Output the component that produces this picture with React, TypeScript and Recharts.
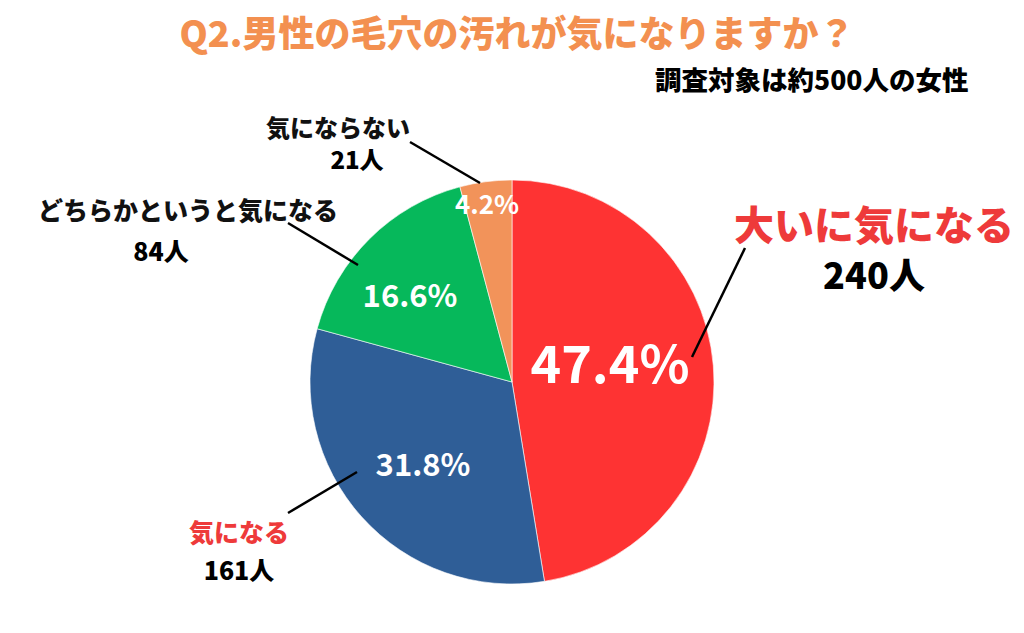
import React from "react";
import { PieChart, Pie, Cell } from "recharts";

const categories = ["大いに気になる", "気になる", "どちらかというと気になる", "気にならない"];
const counts = [240, 161, 84, 21];
const countLabels = ["240人", "161人", "84人", "21人"];
const titleText = "Q2.男性の毛穴の汚れが気になりますか？";
const subtitleText = "調査対象は約500人の女性";

const sliceColors = ["#FE3333", "#2F5E97", "#06B85B", "#F2935A"];
const nameColors = ["#EE3A3A", "#EE3A3A", "#111111", "#111111"];

// annotation layout (relative to pie centre)
const pctOffsets = [[98, -22], [-89, 80], [-102, -89], [-25, -180]];
const pctSizes = [52, 31, 31, 26];
const lineFrom = [[180, -25], [-155, 90], [-154, -117], [-32, -199]];
const lineTo = [[233, -134], [-224, 131], [-224, -159], [-102, -240]];
const nameOffsets = [[362, -159], [-273, 149], [-324, -173], [-174, -256]];
const nameSizes = [40, 25, 25, 24];
const countOffsets = [[362, -109], [-273, 187], [-351, -132], [-155, -224]];
const countSizes = [36, 25, 25, 24];

const data = categories.map((c, i) => ({ name: c, value: counts[i] }));
const total = counts.reduce((a, b) => a + b, 0);

const FONT = "'Noto Sans CJK JP', 'Noto Sans', sans-serif";

const renderLabel = (props: any) => {
  const { cx, cy, index, value } = props;
  const pct = ((value / total) * 100).toFixed(1) + "%";
  return (
    <g key={"lbl" + index}>
      <text
        x={cx + pctOffsets[index][0]}
        y={cy + pctOffsets[index][1]}
        fill="#fff"
        textAnchor="middle"
        dominantBaseline="central"
        fontFamily={FONT}
        fontWeight={700}
        fontSize={pctSizes[index]}
      >
        {pct}
      </text>
      <line
        x1={cx + lineFrom[index][0]}
        y1={cy + lineFrom[index][1]}
        x2={cx + lineTo[index][0]}
        y2={cy + lineTo[index][1]}
        stroke="#000"
        strokeWidth={2.5}
      />
      <text
        x={cx + nameOffsets[index][0]}
        y={cy + nameOffsets[index][1]}
        fill={nameColors[index]}
        textAnchor="middle"
        dominantBaseline="central"
        fontFamily={FONT}
        fontWeight={900}
        fontSize={nameSizes[index]}
      >
        {categories[index]}
      </text>
      <text
        x={cx + countOffsets[index][0]}
        y={cy + countOffsets[index][1]}
        fill="#000"
        textAnchor="middle"
        dominantBaseline="central"
        fontFamily={FONT}
        fontWeight={900}
        fontSize={countSizes[index]}
      >
        {countLabels[index]}
      </text>
    </g>
  );
};

export default function App() {
  return (
    <div style={{ position: "absolute", left: 0, top: 0, width: 1024, height: 633, background: "#fff", overflow: "hidden" }}>
      <div
        style={{
          position: "absolute",
          left: 0,
          width: 1034,
          top: 8,
          textAlign: "center",
          fontFamily: FONT,
          fontWeight: 900,
          fontSize: 36,
          lineHeight: "46px",
          color: "#F39050",
        }}
      >
        {titleText}
      </div>
      <div
        style={{
          position: "absolute",
          left: 655,
          top: 62,
          fontFamily: FONT,
          fontWeight: 900,
          fontSize: 26.5,
          lineHeight: "34px",
          color: "#000",
          whiteSpace: "nowrap",
        }}
      >
        {subtitleText}
      </div>
      <div style={{ position: "absolute", left: 0, top: 0 }}>
        <PieChart width={1024} height={633} margin={{ top: 0, right: 0, bottom: 0, left: 0 }}>
          <Pie
            data={data}
            dataKey="value"
            nameKey="name"
            cx={512}
            cy={382}
            outerRadius={202}
            startAngle={90}
            endAngle={-270}
            stroke="#ffffff"
            strokeWidth={0.6}
            isAnimationActive={false}
            labelLine={false}
            label={renderLabel}
          >
            {data.map((d, i) => (
              <Cell key={d.name} fill={sliceColors[i]} />
            ))}
          </Pie>
        </PieChart>
      </div>
    </div>
  );
}
